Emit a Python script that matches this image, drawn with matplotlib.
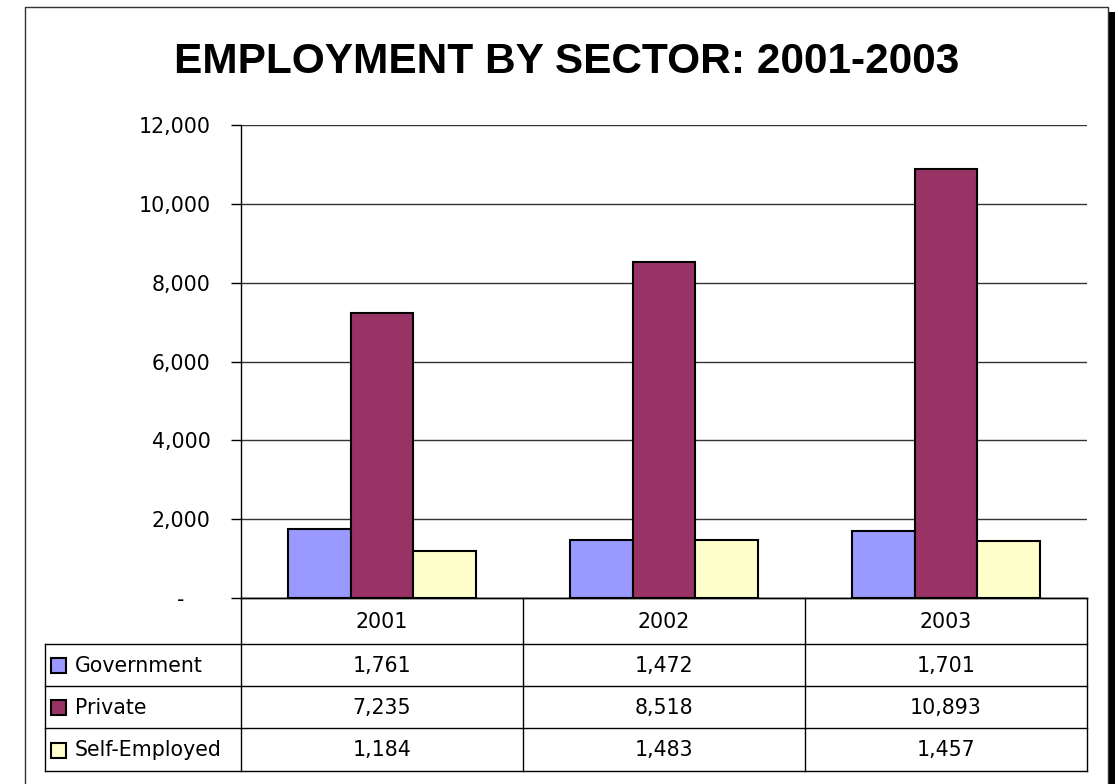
import numpy as np
import matplotlib.pyplot as plt
from matplotlib.patches import Rectangle

years = ['2001', '2002', '2003']
series = ['Government', 'Private', 'Self-Employed']
government = [1761, 1472, 1701]
private = [7235, 8518, 10893]
self_employed = [1184, 1483, 1457]
colors = ['#9999FF', '#993366', '#FFFFCC']
yticks = [0, 2000, 4000, 6000, 8000, 10000, 12000]

W, H = 1118, 784
fig = plt.figure(figsize=(W / 100, H / 100), dpi=100)
txtfont = 'DejaVu Sans'
fs = 14.8

# plot area in pixels
L, R, T, B = 241, 1087, 125, 598
ax = fig.add_axes([L / W, 1 - B / H, (R - L) / W, (B - T) / H])

x = np.arange(len(years))
w = 0.223
data = [government, private, self_employed]
for i, vals in enumerate(data):
    ax.bar(x + (i - 1) * w, vals, w, color=colors[i], edgecolor='black',
           linewidth=1.5, zorder=3)

ax.set_xlim(-0.5, 2.5)
ax.set_ylim(0, 12000)
ax.set_yticks(yticks)
ax.set_yticklabels(['-    ' if v == 0 else f'{v:,}' for v in yticks],
                   fontsize=fs, family=txtfont)
ax.tick_params(axis='y', length=7, width=1, pad=15, direction='out')
ax.set_xticks([])
ax.yaxis.grid(True, color='#333333', linewidth=1)
ax.set_axisbelow(True)
for s in ['top', 'right']:
    ax.spines[s].set_visible(False)
ax.spines['left'].set_linewidth(1)
ax.spines['bottom'].set_linewidth(1)

# overlay for the data table and frame
ov = fig.add_axes([0, 0, 1, 1], zorder=5)
ov.set_xlim(0, W)
ov.set_ylim(H, 0)
ov.axis('off')
ov.patch.set_alpha(0)

lc = 'black'
cols = [L, 523, 805, R]
rows = [B, 644, 686, 728, 771]
left_col = 45
# horizontal lines
ov.plot([L, R], [B, B], color=lc, lw=1)
for yy in rows[1:]:
    ov.plot([left_col, R], [yy, yy], color=lc, lw=1)
# vertical lines
for xx in cols:
    ov.plot([xx, xx], [B, rows[-1]], color=lc, lw=1)
ov.plot([left_col, left_col], [rows[1], rows[-1]], color=lc, lw=1)

for j, yr in enumerate(years):
    cx = (cols[j] + cols[j + 1]) / 2
    ov.text(cx, (rows[0] + rows[1]) / 2 + 1, yr, ha='center', va='center',
            fontsize=fs, family=txtfont)
    for i, vals in enumerate(data):
        ov.text(cx, (rows[i + 1] + rows[i + 2]) / 2 + 1, f'{vals[j]:,}',
                ha='center', va='center', fontsize=fs, family=txtfont)

for i, name in enumerate(series):
    cy = (rows[i + 1] + rows[i + 2]) / 2
    ov.add_patch(Rectangle((51, cy - 7), 15, 15, facecolor=colors[i],
                           edgecolor='black', lw=1.5))
    ov.text(75, cy + 1, name, ha='left', va='center', fontsize=fs,
            family=txtfont)

# title
ov.text(567, 62, 'EMPLOYMENT BY SECTOR: 2001-2003', ha='center', va='center',
        fontsize=30.5, fontweight='bold', family='Liberation Sans')

# outer frame with shadow
ov.plot([25, 25, 1108, 1108], [H + 5, 7, 7, H + 5], color='#333333', lw=1)
ov.add_patch(Rectangle((1109, 12), 6, H, facecolor='black', edgecolor='none'))

fig.savefig('out.png', dpi=100)
